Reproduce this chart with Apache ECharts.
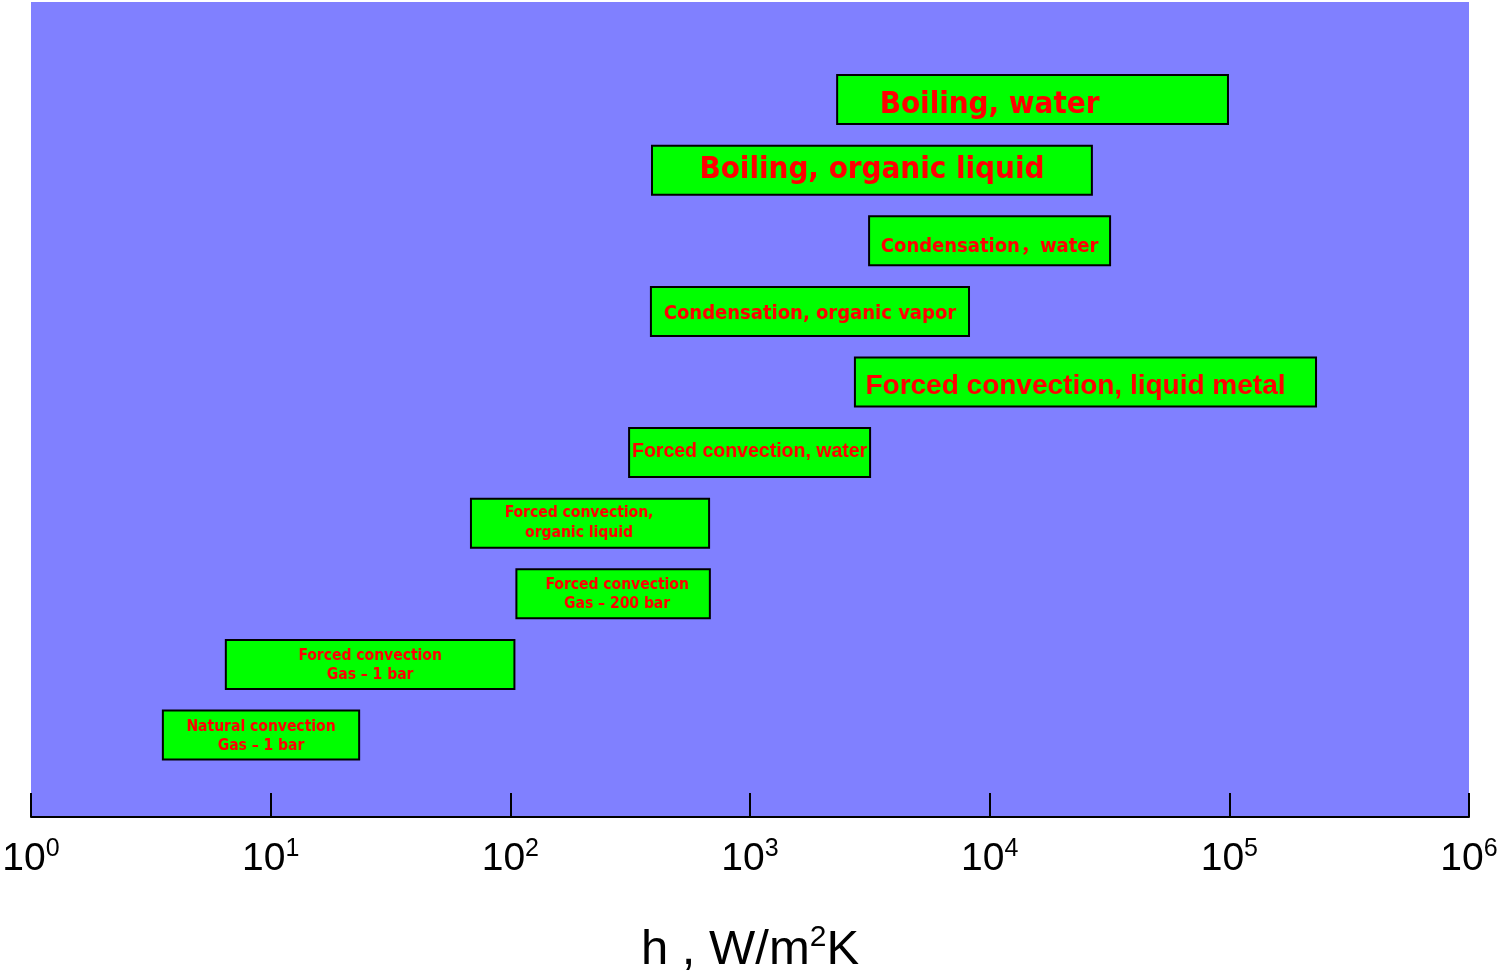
<!DOCTYPE html>
<html>
<head>
<meta charset="utf-8">
<script src="https://cdn.jsdelivr.net/npm/echarts@6/dist/echarts.min.js"></script>
<style>
html,body{margin:0;padding:0;background:#fff;}
#chart{width:1510px;height:977px;}
</style>
</head>
<body>
<div id="chart"></div>
<script>
// ---- data ----
const categories = [
  'Natural convection\nGas – 1 bar',
  'Forced convection\nGas – 1 bar',
  'Forced convection\nGas – 200 bar',
  'Forced convection,\norganic liquid',
  'Forced convection, water',
  'Forced convection, liquid metal',
  'Condensation, organic vapor',
  'Condensation，water',
  'Boiling, organic liquid',
  'Boiling, water'
];
const hMin = [3.55, 6.5, 106, 68.5, 313, 2740, 386, 3140, 390, 2310];
const hMax = [23.4, 104, 680, 675, 3170, 230000, 8200, 31800, 26700, 98700];
const tickExponents = [0, 1, 2, 3, 4, 5, 6];

// ---- label styling (not data) ----
const CONDB = '"DejaVu Sans Condensed", "DejaVu Sans", "Noto Sans CJK SC", sans-serif';
const LIB = '"Liberation Sans", Arial, sans-serif';
const labelStyles = [
  {size: 15.5, fam: CONDB, dx: 0,   dy: 1, lh: 19},
  {size: 15.5, fam: CONDB, dx: 0,   dy: 1, lh: 19},
  {size: 15.5, fam: CONDB, dx: 4,   dy: 1, lh: 19},
  {size: 15.5, fam: CONDB, dx: -11, dy: 0, lh: 20},
  {size: 19.5, fam: LIB,   dx: 0,   dy: -1, lh: 22},
  {size: 28,   fam: LIB,   dx: -10, dy: 4, lh: 30},
  {size: 20,   fam: CONDB, dx: 0,   dy: 2, lh: 22},
  {size: 20,   fam: CONDB, dx: 0,   dy: 6, lh: 22},
  {size: 31,   fam: CONDB, dx: 0,   dy: 0, lh: 34},
  {size: 31,   fam: CONDB, dx: -43, dy: 5, lh: 34}
];

const seriesData = categories.map((c, i) => [hMin[i], hMax[i], i]);

const chart = echarts.init(document.getElementById('chart'), null, {renderer: 'canvas'});

const option = {
  animation: false,
  grid: {
    left: 31, right: 41, top: 2, bottom: 160,
    containLabel: false, outerBoundsMode: 'none',
    show: true, backgroundColor: '#8080FF', borderWidth: 0
  },
  xAxis: {
    type: 'log', logBase: 10, min: 1, max: 1e6, splitNumber: 6,
    splitLine: {show: false},
    axisLine: {show: true, onZero: false, lineStyle: {color: '#000', width: 2}},
    axisTick: {show: true, inside: true, length: 24, lineStyle: {color: '#000', width: 2}},
    axisLabel: {
      margin: 20,
      formatter: function (v) {
        const e = Math.round(Math.log10(v));
        return '{b|10}{s|' + e + '}';
      },
      rich: {
        b: {fontSize: 39, fontFamily: LIB, color: '#000', lineHeight: 44},
        s: {fontSize: 25, fontFamily: LIB, color: '#000', lineHeight: 44, verticalAlign: 'top'}
      }
    },
    name: '{a|h , W/m}{s|2}{a|K}',
    nameLocation: 'middle',
    nameGap: 106,
    nameTextStyle: {
      rich: {
        a: {fontSize: 49, fontFamily: LIB, color: '#000', lineHeight: 54},
        s: {fontSize: 30, fontFamily: LIB, color: '#000', lineHeight: 54, verticalAlign: 'top'}
      }
    }
  },
  yAxis: {
    type: 'value', min: -1.1615, max: 10.382, show: false
  },
  series: [{
    type: 'custom',
    encode: {x: [0, 1], y: 2},
    data: seriesData,
    renderItem: function (params, api) {
      const i = api.value(2);
      const s = api.coord([api.value(0), i]);
      const e = api.coord([api.value(1), i]);
      const top = api.coord([1, i + 0.347])[1];
      const bot = api.coord([1, i - 0.347])[1];
      const st = labelStyles[params.dataIndex];
      return {
        type: 'group',
        children: [
          {
            type: 'rect',
            shape: {x: s[0], y: top, width: e[0] - s[0], height: bot - top},
            style: {fill: '#00FF00', stroke: '#000', lineWidth: 2}
          },
          {
            type: 'text',
            style: {
              text: categories[params.dataIndex],
              x: (s[0] + e[0]) / 2 + st.dx,
              y: s[1] + st.dy,
              fill: '#FF0000',
              fontFamily: st.fam,
              fontSize: st.size,
              fontWeight: 'bold',
              lineHeight: st.lh,
              align: 'center',
              verticalAlign: 'middle'
            }
          }
        ]
      };
    }
  }]
};
chart.setOption(option);
</script>
</body>
</html>
